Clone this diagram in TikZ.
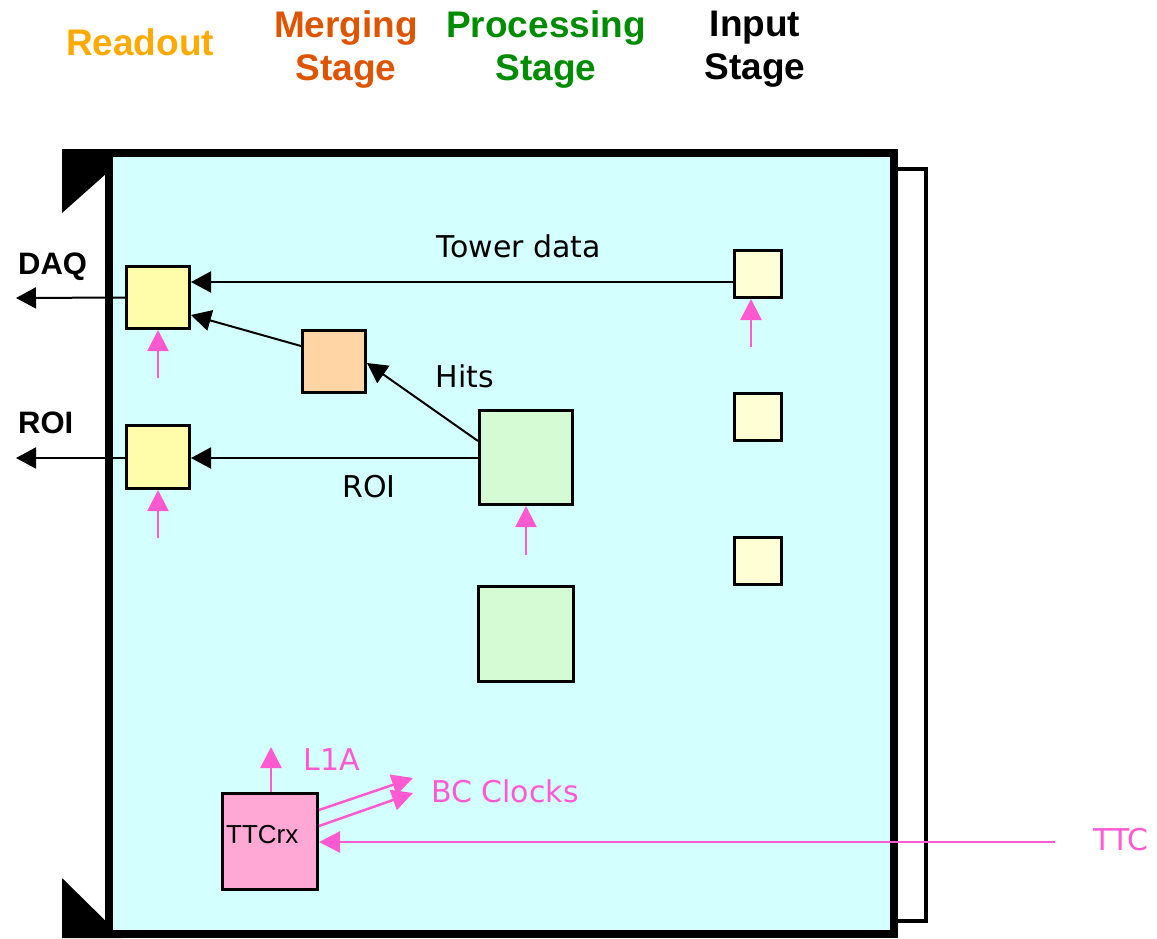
\documentclass[tikz,border=0pt]{standalone}
\usepackage{fontspec}
\setmainfont{Liberation Sans}
\newfontfamily\comicf{DejaVu Sans}
\usetikzlibrary{arrows.meta}
\definecolor{boardc}{RGB}{212,255,255}
\definecolor{rdyel}{RGB}{255,252,170}
\definecolor{inyel}{RGB}{255,255,213}
\definecolor{mergec}{RGB}{255,213,165}
\definecolor{procc}{RGB}{213,251,213}
\definecolor{ttcc}{RGB}{255,168,213}
\definecolor{pinkc}{RGB}{255,90,210}
\definecolor{readoutc}{RGB}{255,170,0}
\definecolor{mergingc}{RGB}{221,85,0}
\definecolor{procg}{RGB}{0,140,0}
\tikzset{
  blk/.style={draw=black, line width=3pt, inner sep=0pt},
  hdr/.style={font=\fontsize{37}{43}\selectfont\bfseries, align=center, inner sep=0pt},
  bold/.style={font=\fontsize{31}{36}\selectfont\bfseries, inner sep=0pt},
  comic/.style={font=\fontsize{30}{36}\selectfont\comicf, inner sep=0pt},
  blkarrow/.style={draw=black, line width=2pt, -{Triangle[length=20pt,width=21pt]}},
  pinkarrow/.style={draw=pinkc, line width=2.5pt, -{Triangle[length=21pt,width=21pt]}},
}
\begin{document}
\begin{tikzpicture}[x=1pt,y=-1pt]
\useasboundingbox (0,0) rectangle (1157,938);
% headers
\node[hdr, text=readoutc] (hread) at (140,42) {Readout};
\node[hdr, text=mergingc] (hmerge) at (346,49.5) {Merging\\Stage};
\node[hdr, text=procg] (hproc) at (546,49.5) {Processing\\Stage};
\node[hdr, text=black] (hinput) at (755,49.5) {Input\\Stage};
% corner triangles and side board
\fill[black] (62,149) -- (134,149) -- (62,213) -- cycle;
\fill[black] (62,878) -- (62,938) -- (123,938) -- cycle;
\draw[line width=4pt, fill=white] (890,169) rectangle (926,921);
% main board
\draw[line width=8pt, fill=boardc] (109,153) rectangle (894,934);
% boxes
\node[blk, fill=rdyel, minimum width=63pt, minimum height=62pt] (daqbox) at (158,297.5) {};
\node[blk, fill=rdyel, minimum width=63pt, minimum height=63pt] (roibox) at (158,457) {};
\node[blk, fill=mergec, minimum width=63pt, minimum height=62pt] (merge) at (334,361.5) {};
\node[blk, fill=procc, minimum width=93pt, minimum height=94pt] (proc1) at (526,457.5) {};
\node[blk, fill=procc, minimum width=95pt, minimum height=95pt] (proc2) at (526,634) {};
\node[blk, fill=inyel, minimum width=47pt, minimum height=47pt] (in1) at (758,274) {};
\node[blk, fill=inyel, minimum width=47pt, minimum height=47pt] (in2) at (758,417) {};
\node[blk, fill=inyel, minimum width=47pt, minimum height=47pt] (in3) at (758,561) {};
\node[blk, fill=ttcc, minimum width=95pt, minimum height=96pt] (ttcrx) at (270,841.5) {};
\node[font=\fontsize{26}{30}\selectfont, inner sep=0pt, anchor=base west] (ttclabel) at (226,843) {TTCrx};
% free ends
\coordinate (daqout) at (16,298);
\coordinate (roiout) at (16,458);
\coordinate (pdaq) at (158,378);
\coordinate (proi) at (158,538);
\coordinate (pproc) at (526,555);
\coordinate (pin) at (751,347);
\coordinate (l1a) at (271,747);
\coordinate (bc1) at (413,778);
\coordinate (bc2) at (413,793);
\coordinate (ttcin) at (1055,842);
% black arrows
\draw[blkarrow] (daqbox.west) -- (daqout);
\draw[blkarrow] (roibox.west |- 0,458) -- (roiout);
\draw[blkarrow] (in1.west |- 0,282) -- (daqbox.east |- 0,282);
\draw[blkarrow] (merge.west |- 0,346) -- (daqbox.east |- 0,315);
\draw[blkarrow] (proc1.west |- 0,441) -- (merge.east |- 0,363);
\draw[blkarrow] (proc1.west |- 0,458) -- (roibox.east |- 0,458);
% pink arrows
\draw[pinkarrow] (pdaq) -- (daqbox.south);
\draw[pinkarrow] (proi) -- (roibox.south);
\draw[pinkarrow] (pproc) -- (proc1.south);
\draw[pinkarrow] (pin) -- (in1.south -| 751,0);
\draw[pinkarrow] (ttcrx.north -| 271,0) -- (l1a);
\draw[pinkarrow] (ttcrx.east |- 0,810) -- (bc1);
\draw[pinkarrow] (ttcrx.east |- 0,826) -- (bc2);
\draw[pinkarrow] (ttcin) -- (ttcrx.east |- 0,842);
% labels
\node[bold, anchor=base west] (ldaq) at (18,274) {DAQ};
\node[bold, anchor=base west] (lroi) at (18,433) {ROI};
\node[comic, anchor=base] (ltower) at (519,257) {Tower data};
\node[comic, anchor=base] (lhits) at (465,387) {Hits};
\node[comic, anchor=base] (lroi2) at (369,497) {ROI};
\node[comic, anchor=base, text=pinkc] (ll1a) at (332,770) {L1A};
\node[comic, anchor=base, text=pinkc] (lbc) at (505,802) {BC Clocks};
\node[comic, anchor=base, text=pinkc] (lttc) at (1121,850) {TTC};
\end{tikzpicture}
\end{document}
